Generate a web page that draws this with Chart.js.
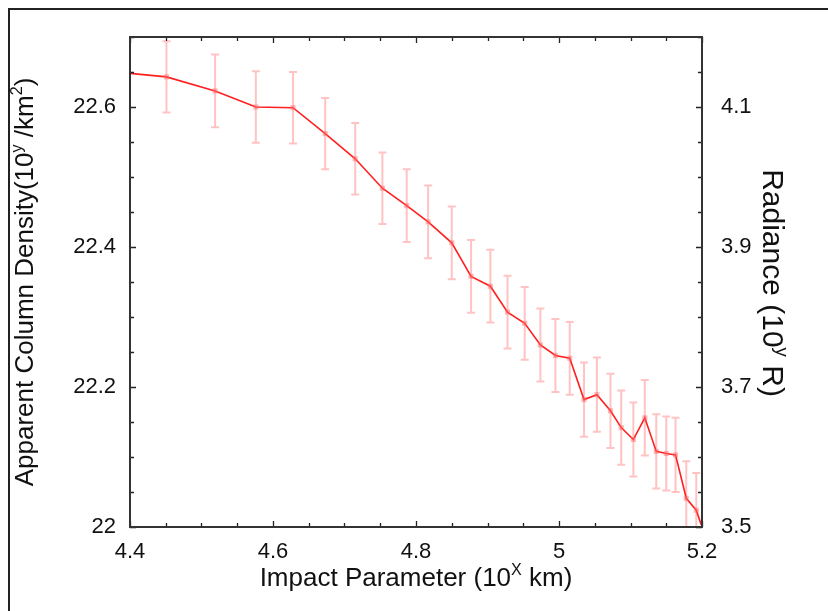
<!DOCTYPE html>
<html><head><meta charset="utf-8">
<script src="https://cdn.jsdelivr.net/npm/chart.js@4"></script>
<style>html,body{margin:0;padding:0;background:#fff}#wrap{width:828px;height:611px;position:relative}</style>
</head><body><div id="wrap"><canvas id="c" width="828" height="611"></canvas></div>
<script>
// ---- data ----
const impactParameter = [4.400, 4.451, 4.519, 4.576, 4.628, 4.673, 4.715, 4.753, 4.787, 4.817, 4.850, 4.877, 4.904, 4.928, 4.952, 4.974, 4.995, 5.015, 5.035, 5.053, 5.072, 5.087, 5.104, 5.120, 5.136, 5.150, 5.163, 5.178, 5.192, 5.199];
const columnDensity   = [22.648, 22.643, 22.623, 22.600, 22.599, 22.562, 22.526, 22.484, 22.459, 22.436, 22.406, 22.358, 22.344, 22.307, 22.291, 22.260, 22.245, 22.241, 22.182, 22.189, 22.166, 22.142, 22.125, 22.156, 22.108, 22.105, 22.103, 22.041, 22.024, 22.003];
const errorHalf       = [null, 0.051, 0.052, 0.051, 0.051, 0.051, 0.051, 0.051, 0.052, 0.052, 0.052, 0.052, 0.052, 0.052, 0.052, 0.052, 0.052, 0.052, 0.053, 0.053, 0.053, 0.053, 0.053, 0.054, 0.053, 0.053, 0.053, 0.053, 0.053, null];
const xRange  = [4.4, 5.2];
const yRange  = [22, 22.7];
const y2Range = [3.5, 4.2];
const minorStep = 0.05;
const labelStep = 0.2;

const FONT = "'Liberation Sans', Arial, sans-serif";

function isMajor(v, min){ const k = (v - min) / labelStep; return Math.abs(k - Math.round(k)) < 1e-6; }
function fmt(v){ return String(Math.round(v * 100) / 100); }
function cb(min){ return function(v){ return isMajor(v, min) ? fmt(v) : ''; }; }

const points = impactParameter.map((x, i) => ({x, y: columnDensity[i]}));

const errorBarPlugin = {
  id: 'errorBars',
  beforeDatasetsDraw(chart){
    const {ctx, chartArea: a, scales: {x, y}} = chart;
    ctx.save();
    ctx.beginPath(); ctx.rect(a.left, a.top, a.right - a.left, a.bottom - a.top); ctx.clip();
    ctx.strokeStyle = 'rgba(255,90,90,0.36)';
    ctx.lineWidth = 2;
    points.forEach((p, i) => {
      const e = errorHalf[i]; if (e == null) return;
      const px = x.getPixelForValue(p.x);
      const t = y.getPixelForValue(p.y + e), b = y.getPixelForValue(p.y - e);
      ctx.beginPath();
      ctx.moveTo(px, t); ctx.lineTo(px, b);
      ctx.moveTo(px - 4, t); ctx.lineTo(px + 4, t);
      ctx.moveTo(px - 4, b); ctx.lineTo(px + 4, b);
      ctx.stroke();
    });
    ctx.restore();
  }
};

function drawRich(ctx, parts, size, cx, cy, rot, sx){
  ctx.save();
  ctx.translate(cx, cy); ctx.rotate(rot); ctx.scale(sx || 1, 1);
  const sup = size * 0.62;
  let w = 0;
  parts.forEach(p => { ctx.font = (p.sup ? sup : size) + 'px ' + FONT; p.w = ctx.measureText(p.t).width; w += p.w; });
  let x = -w / 2;
  ctx.fillStyle = '#111';
  ctx.textBaseline = 'alphabetic';
  ctx.textAlign = 'left';
  parts.forEach(p => {
    ctx.font = (p.sup ? sup : size) + 'px ' + FONT;
    ctx.fillText(p.t, x, size * 0.36 - (p.sup ? size * 0.42 : 0));
    x += p.w;
  });
  ctx.restore();
}

const framePlugin = {
  id: 'frame',
  afterDraw(chart){
    const {ctx, chartArea: a, scales} = chart;
    ctx.save();
    ctx.strokeStyle = '#222'; ctx.lineWidth = 1.3;
    const xs = scales.x, ys = scales.y, y2 = scales.y2;
    ctx.beginPath();
    xs.ticks.forEach(t => {
      const px = Math.round(xs.getPixelForValue(t.value)) + 0.5;
      const L = isMajor(t.value, xRange[0]) ? 6 : 4;
      ctx.moveTo(px, a.bottom); ctx.lineTo(px, a.bottom - L);
      ctx.moveTo(px, a.top); ctx.lineTo(px, a.top + L);
    });
    ys.ticks.forEach(t => {
      const py = Math.round(ys.getPixelForValue(t.value)) + 0.5;
      const L = isMajor(t.value, yRange[0]) ? 6 : 4;
      ctx.moveTo(a.left, py); ctx.lineTo(a.left + L, py);
    });
    y2.ticks.forEach(t => {
      const py = Math.round(y2.getPixelForValue(t.value)) + 0.5;
      const L = isMajor(t.value, y2Range[0]) ? 6 : 4;
      ctx.moveTo(a.right, py); ctx.lineTo(a.right - L, py);
    });
    ctx.stroke();
    ctx.strokeStyle = '#333'; ctx.lineWidth = 2;
    ctx.strokeRect(a.left, a.top, a.right - a.left, a.bottom - a.top);
    ctx.strokeStyle = '#222'; ctx.lineWidth = 2;
    ctx.beginPath(); ctx.moveTo(9, 615); ctx.lineTo(9, 9); ctx.lineTo(830, 9); ctx.stroke();
    ctx.restore();
    drawRich(ctx, [{t:'Impact Parameter (10'}, {t:'X', sup:true}, {t:' km)'}], 26, 416, 577, 0, 1);
    drawRich(ctx, [{t:'Apparent Column Density(10'}, {t:'y', sup:true}, {t:' /km'}, {t:'2', sup:true}, {t:')'}], 26, 24, 282, -Math.PI / 2, 1);
    drawRich(ctx, [{t:'Radiance (10'}, {t:'y', sup:true}, {t:' R)'}], 30, 774, 283, Math.PI / 2, 1);
  }
};

const tickFont = {family: FONT, size: 22};

new Chart(document.getElementById('c'), {
  type: 'scatter',
  data: { datasets: [{
    data: points,
    showLine: true,
    borderColor: '#ff1f1f',
    borderWidth: 1.6,
    tension: 0,
    pointStyle: 'rect',
    pointRadius: points.map((p, i) => errorHalf[i] == null ? 0 : 3.6),
    pointBackgroundColor: 'rgba(255,110,110,0.5)',
    pointBorderWidth: 0,
    yAxisID: 'y',
    clip: 0
  }]},
  options: {
    responsive: false,
    animation: false,
    events: [],
    layout: {padding: {top: 37, left: 0, right: 0, bottom: 0}},
    plugins: {legend: {display: false}, tooltip: {enabled: false}},
    scales: {
      x: {
        type: 'linear', position: 'bottom', min: xRange[0], max: xRange[1],
        grid: {display: false}, border: {display: false},
        ticks: {stepSize: minorStep, autoSkip: false, maxRotation: 0, padding: 4, color: '#111', font: tickFont, callback: cb(xRange[0])},
        afterFit(s){ s.height = 611 - 527; }
      },
      y: {
        type: 'linear', position: 'left', min: yRange[0], max: yRange[1],
        grid: {display: false}, border: {display: false},
        ticks: {stepSize: minorStep, autoSkip: false, padding: 6, color: '#111', font: tickFont, callback: cb(yRange[0])},
        afterFit(s){ s.width = 130; }
      },
      y2: {
        type: 'linear', position: 'right', display: true, min: y2Range[0], max: y2Range[1],
        grid: {display: false}, border: {display: false},
        ticks: {stepSize: minorStep, autoSkip: false, padding: 11, color: '#111', font: tickFont, callback: cb(y2Range[0])},
        afterFit(s){ s.width = 828 - 702; }
      }
    }
  },
  plugins: [errorBarPlugin, framePlugin]
});
</script>
</body></html>
